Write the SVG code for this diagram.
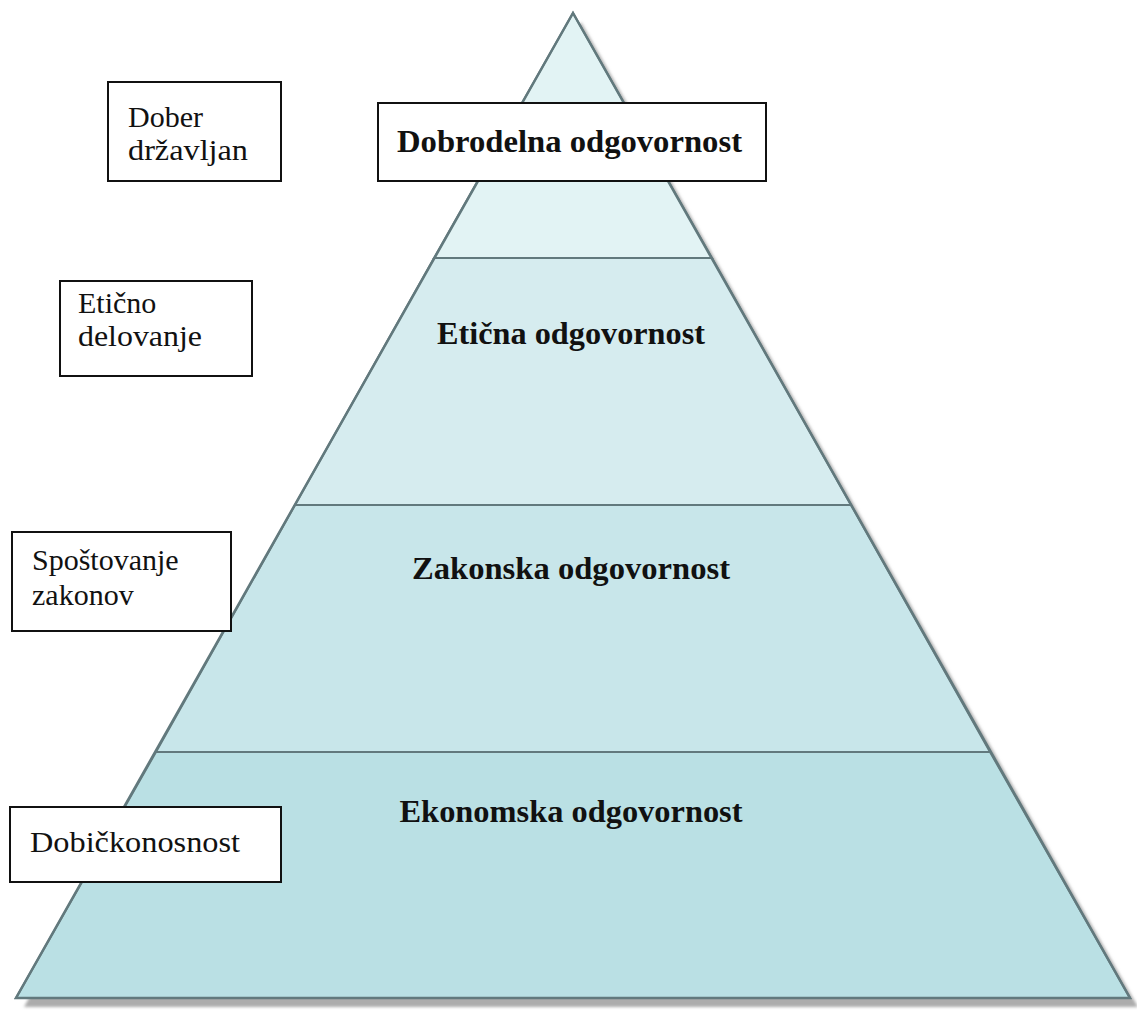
<svg xmlns="http://www.w3.org/2000/svg" width="1137" height="1010" viewBox="0 0 1137 1010">
<defs>
<filter id="blur" x="-5%" y="-5%" width="110%" height="110%"><feGaussianBlur stdDeviation="1.5"/></filter>
</defs>
<style>
.band{stroke:#62797d;stroke-width:2}
.div{stroke:#62797d;stroke-width:2.5;fill:none}
.box{fill:#ffffff;stroke:#111;stroke-width:2}
.lab{font-family:"Liberation Serif","Times New Roman",serif;font-size:30px;fill:#111}
.bold{font-family:"Liberation Serif","Times New Roman",serif;font-size:32px;font-weight:bold;fill:#111;text-anchor:middle}
</style>
<rect width="1137" height="1010" fill="#ffffff"/>
<g id="pyramid">
<polygon points="573,13 1130,998 16,998" transform="translate(8,9)" fill="#acacac" filter="url(#blur)"/>
<polygon class="band" points="573,13 712,258 434,258" fill="#e2f3f4"/>
<polygon class="band" points="434,258 712,258 851,505 295,505" fill="#d6ecef"/>
<polygon class="band" points="295,505 851,505 990,752 156,752" fill="#c8e6ea"/>
<polygon class="band" points="156,752 990,752 1130,998 16,998" fill="#bae0e4"/>
<polygon class="div" points="573,13 1130,998 16,998"/>
</g>
<g id="level-ethical"><text class="bold" x="571" y="344" textLength="268" lengthAdjust="spacingAndGlyphs">Etična odgovornost</text></g>
<g id="level-legal"><text class="bold" x="571" y="579" textLength="318" lengthAdjust="spacingAndGlyphs">Zakonska odgovornost</text></g>
<g id="level-economic"><text class="bold" x="571" y="822" textLength="343" lengthAdjust="spacingAndGlyphs">Ekonomska odgovornost</text></g>
<g id="level-philanthropic">
<rect class="box" x="378" y="103" width="388" height="78"/>
<text class="bold" x="569.5" y="152" textLength="345" lengthAdjust="spacingAndGlyphs">Dobrodelna odgovornost</text>
</g>
<g id="label-citizen">
<rect class="box" x="108" y="82" width="173" height="99"/>
<text class="lab" x="128" y="127">Dober</text>
<text class="lab" x="128" y="160" textLength="120" lengthAdjust="spacingAndGlyphs">državljan</text>
</g>
<g id="label-ethics">
<rect class="box" x="60" y="281" width="192" height="95"/>
<text class="lab" x="78" y="313">Etično</text>
<text class="lab" x="78" y="346" textLength="124" lengthAdjust="spacingAndGlyphs">delovanje</text>
</g>
<g id="label-law">
<rect class="box" x="12" y="532" width="219" height="99"/>
<text class="lab" x="32" y="570">Spoštovanje</text>
<text class="lab" x="32" y="605">zakonov</text>
</g>
<g id="label-profit">
<rect class="box" x="10" y="807" width="271" height="75"/>
<text class="lab" x="30" y="852" textLength="210" lengthAdjust="spacingAndGlyphs">Dobičkonosnost</text>
</g>
</svg>
